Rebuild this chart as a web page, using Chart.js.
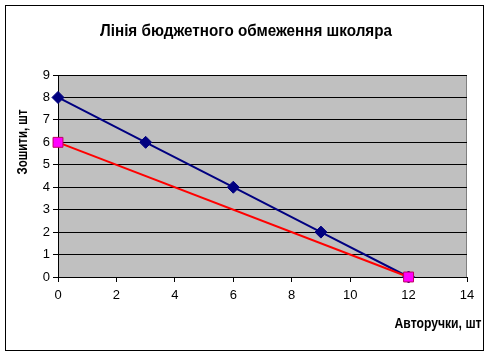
<!DOCTYPE html>
<html>
<head>
<meta charset="utf-8">
<script src="https://cdn.jsdelivr.net/npm/chart.js@4"></script>
<style>
  html, body { margin: 0; padding: 0; background: #fff; }
  #wrap { width: 489px; height: 356px; position: relative; }
</style>
</head>
<body>
<div id="wrap"><canvas id="budgetChart" width="489" height="356"></canvas></div>
<script>
// Дані
const chartTitle = 'Лінія бюджетного обмеження школяра';
const xTitle = 'Авторучки, шт';
const yTitle = 'Зошити, шт';

const pensBlue = [0, 3, 6, 9, 12];
const notebooksBlue = [8, 6, 4, 2, 0];
const pensRed = [0, 12];
const notebooksRed = [6, 0];

const xMin = 0, xMax = 14, xStep = 2;
const yMin = 0, yMax = 9, yStep = 1;

function toPoints(xs, ys) {
  return xs.map((x, i) => ({ x: x, y: ys[i] }));
}

// текст, стиснутий по ширині (як у старому Excel)
function fitText(ctx, text, x, y, width, font, rotate) {
  ctx.save();
  ctx.font = font;
  ctx.fillStyle = '#000';
  ctx.textAlign = 'center';
  ctx.textBaseline = 'middle';
  const w = ctx.measureText(text).width;
  ctx.translate(x, y);
  if (rotate) ctx.rotate(-Math.PI / 2);
  ctx.scale(width / w, 1);
  ctx.fillText(text, 0, 0);
  ctx.restore();
}

const excelLook = {
  id: 'excelLook',
  beforeDraw(chart) {
    const ctx = chart.ctx;
    const a = chart.chartArea;
    ctx.save();
    ctx.fillStyle = '#fff';
    ctx.fillRect(0, 0, chart.width, chart.height);
    ctx.fillStyle = '#C0C0C0';
    ctx.fillRect(a.left, a.top, a.right - a.left, a.bottom - a.top);
    ctx.strokeStyle = '#808080';
    ctx.lineWidth = 1;
    ctx.strokeRect(a.left + 0.5, a.top + 0.5, a.right - a.left - 1, a.bottom - a.top);
    ctx.restore();
  },
  afterDraw(chart) {
    const ctx = chart.ctx;
    fitText(ctx, chartTitle, 246, 31, 292, 'bold 17px "Liberation Sans", Arial, sans-serif');
    fitText(ctx, xTitle, 438, 324, 87, 'bold 14px "Liberation Sans", Arial, sans-serif');
    fitText(ctx, yTitle, 23, 142, 65, 'bold 14px "Liberation Sans", Arial, sans-serif', true);
    ctx.save();
    ctx.fillStyle = '#fff';
    ctx.fillRect(484, 0, 5, chart.height);
    ctx.strokeStyle = '#000';
    ctx.lineWidth = 1;
    ctx.strokeRect(5.5, 5.5, 478, 345);
    ctx.restore();
  }
};

const ctx = document.getElementById('budgetChart').getContext('2d');
new Chart(ctx, {
  type: 'scatter',
  data: {
    datasets: [
      {
        data: toPoints(pensRed, notebooksRed),
        showLine: true,
        borderColor: '#FF0000',
        borderWidth: 2,
        pointStyle: 'rect',
        pointRadius: 7,
        pointBackgroundColor: '#FF00FF',
        pointBorderColor: '#C00060',
        pointBorderWidth: 1,
        clip: false,
        order: 0
      },
      {
        data: toPoints(pensBlue, notebooksBlue),
        showLine: true,
        borderColor: '#000080',
        borderWidth: 2,
        pointStyle: 'rectRot',
        pointRadius: 6,
        pointBackgroundColor: '#000080',
        pointBorderColor: '#000080',
        pointBorderWidth: 1,
        clip: false,
        order: 1
      }
    ]
  },
  options: {
    responsive: false,
    animation: false,
    layout: { padding: { top: 75, right: 22, bottom: 0, left: 0 } },
    plugins: {
      legend: { display: false },
      tooltip: { enabled: false },
      title: { display: false }
    },
    scales: {
      x: {
        type: 'linear',
        min: xMin, max: xMax,
        afterFit: s => { s.height = 79; },
        ticks: {
          stepSize: xStep,
          color: '#000',
          padding: 6,
          maxRotation: 0,
          font: { family: '"Liberation Sans", Arial, sans-serif', size: 13 }
        },
        grid: { drawOnChartArea: false, color: '#000', tickLength: 5 },
        border: { color: '#000', width: 1 }
      },
      y: {
        type: 'linear',
        min: yMin, max: yMax,
        afterFit: s => { s.width = 58; },
        ticks: {
          stepSize: yStep,
          color: '#000',
          padding: 3,
          font: { family: '"Liberation Sans", Arial, sans-serif', size: 13 }
        },
        grid: { color: '#000', tickLength: 5 },
        border: { color: '#000', width: 1 }
      }
    }
  },
  plugins: [excelLook]
});
</script>
</body>
</html>
